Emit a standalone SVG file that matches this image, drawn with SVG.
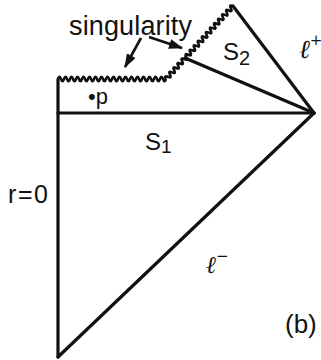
<svg xmlns="http://www.w3.org/2000/svg" width="321" height="360" viewBox="0 0 321 360">
<style>
.ln{fill:none;stroke:#111;stroke-width:3.2;stroke-linecap:round;stroke-linejoin:miter}
.wv{fill:none;stroke:#111;stroke-width:2.6;stroke-linejoin:round}
.ar{fill:none;stroke:#111;stroke-width:2.6}
.t{font-family:"Liberation Sans",Arial,sans-serif;fill:#111}
.sc{font-family:"DejaVu Serif","Liberation Serif",serif;font-style:italic;fill:#111}
</style>
<defs>
<marker id="ah" markerUnits="userSpaceOnUse" markerWidth="14" markerHeight="10" refX="13" refY="5" orient="auto">
<path d="M0,0 L14,5 L0,10 z" fill="#111"/>
</marker>
</defs>
<rect width="321" height="360" fill="#fff"/>
<g id="diagram">
<path id="r0" class="ln" d="M58,79 V357"/>
<path id="lminus" class="ln" d="M58,357 L314,113"/>
<path id="s1" class="ln" d="M58,113 H314"/>
<path id="s2" class="ln" d="M185,58 L314,113"/>
<path id="lplus" class="ln" d="M233,6 L314,113"/>
<g id="singularity">
<path class="wv" d="M58,79 q1.5,-4.5 3,0 t3,0 t3,0 t3,0 t3,0 t3,0 t3,0 t3,0 t3,0 t3,0 t3,0 t3,0 t3,0 t3,0 t3,0 t3,0 t3,0 t3,0 t3,0 t3,0 t3,0 t3,0 t3,0 t3,0 t3,0 t3,0 t3,0 t3,0 t3,0 t3,0 t3,0 t3,0 t3,0 t3,0 t3,0 t3,0"/>
<path class="wv" transform="translate(166,79) rotate(-47.45)" d="M0,0 q1.5,-4.5 3,0 t3,0 t3,0 t3,0 t3,0 t3,0 t3,0 t3,0 t3,0 t3,0 t3,0 t3,0 t3,0 t3,0 t3,0 t3,0 t3,0 t3,0 t3,0 t3,0 t3,0 t3,0 t3,0 t3,0 t3,0 t3,0 t3,0 t3,0 t3,0 t3,0 t3,0 t3,0 t3,0"/>
</g>
</g>
<g id="connectors">
<path class="ar" d="M141,38 L125,67" marker-end="url(#ah)"/>
<path class="ar" d="M149,37 L182,48" marker-end="url(#ah)"/>
</g>
<g id="labels">
<text class="t" x="69" y="35" font-size="27" textLength="123" lengthAdjust="spacing">singularity</text>
<text class="t" x="88" y="104" font-size="22">•p</text>
<text class="t" x="223" y="60" font-size="24">S<tspan font-size="20" dy="5">2</tspan></text>
<text class="t" x="145" y="150" font-size="24">S<tspan font-size="19" dy="3">1</tspan></text>
<text class="t" x="8" y="203" font-size="25" textLength="40" lengthAdjust="spacing">r=0</text>
<text class="sc" x="299" y="58" font-size="26">ℓ<tspan font-style="normal" font-size="15" dy="-13">+</tspan></text>
<text class="sc" x="206" y="273" font-size="24">ℓ<tspan font-style="normal" font-size="15" dy="-12">−</tspan></text>
<text class="t" x="285" y="333" font-size="26">(b)</text>
</g>
</svg>
